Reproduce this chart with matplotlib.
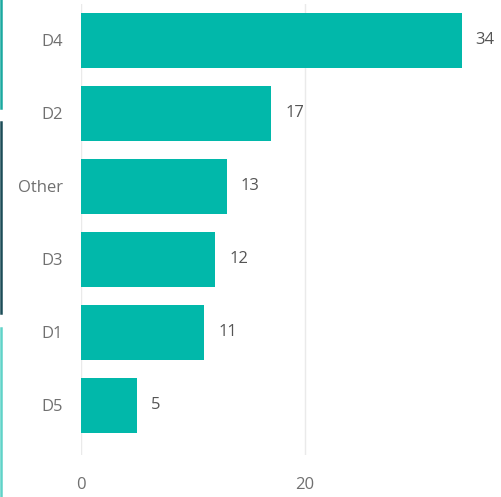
import matplotlib.pyplot as plt
from matplotlib.lines import Line2D

# 数据
categories = ['D4', 'D2', 'Other', 'D3', 'D1', 'D5']
values = [34, 17, 13, 12, 11, 5]
xticks = [0, 20]

bar_color = '#01B8AA'
plt.rcParams['font.family'] = ['Open Sans', 'DejaVu Sans']

W, H = 501, 497
fig = plt.figure(figsize=(W / 100, H / 100), dpi=100)
# 坐标轴位置（像素换算）
left, right, top, bottom = 81, 501, 4, 455
ax = fig.add_axes([left / W, 1 - bottom / H, (right - left) / W, (bottom - top) / H])

ypos = list(range(len(categories)))
ax.barh(ypos, values, height=0.75, color=bar_color, zorder=2)
for y, v in zip(ypos, values):
    ax.annotate(str(v), (v, y), xytext=(10, 0), textcoords='offset points',
                va='center', ha='left', fontsize=12, color='#555555')

ax.set_yticks(ypos)
ax.set_yticklabels(categories, fontsize=12, color='#707070')
ax.set_ylim(5.5 + 13 / 73, -0.5)
ax.set_xlim(0, 37.5)
ax.set_xticks(xticks)
ax.set_xticklabels([str(t) for t in xticks], fontsize=12, color='#707070')
ax.tick_params(length=0)
ax.tick_params(axis='y', pad=13)
ax.tick_params(axis='x', pad=16)
ax.grid(axis='x', color='#eaeaea', linewidth=1, zorder=0)
for s in ax.spines.values():
    s.set_visible(False)

# 左边缘的色条
strips = [(0, 108, '#1aa9a0'), (122, 313, '#1b4c57'), (328, 497, '#5fd3c8')]
for y0, y1, c in strips:
    fig.add_artist(Line2D([1 / W, 1 / W], [1 - y0 / H, 1 - y1 / H], color=c, linewidth=1.8))

fig.savefig('out.png', dpi=100)
